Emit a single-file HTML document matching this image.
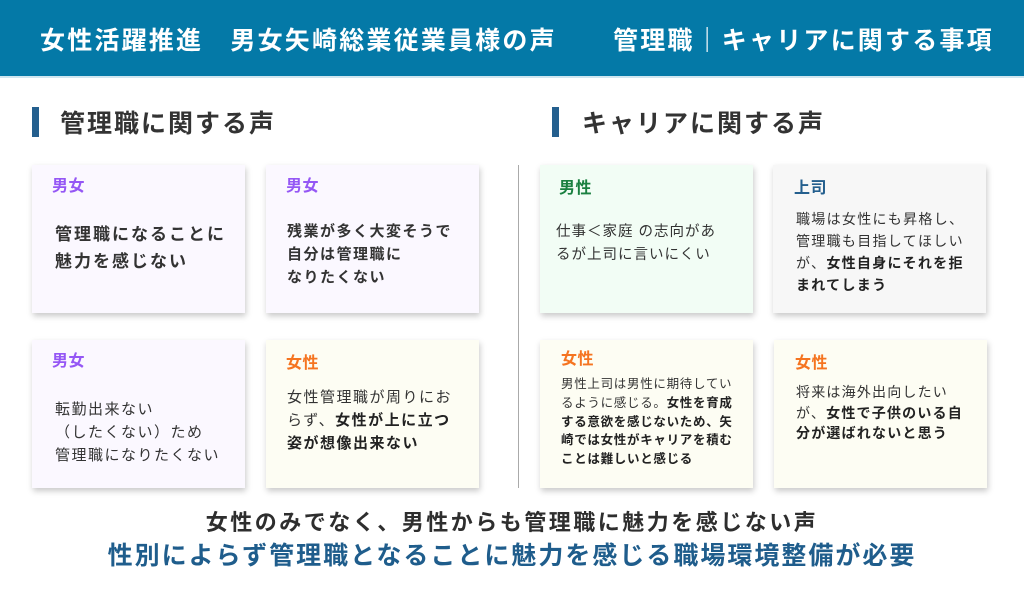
<!DOCTYPE html>
<html><head><meta charset="utf-8"><style>
*{margin:0;padding:0;box-sizing:border-box}
body{width:1024px;height:597px;background:#fff;position:relative;overflow:hidden;font-family:"Liberation Sans","Noto Sans CJK JP",sans-serif;color:#333}
.hdr{position:absolute;left:0;top:0;width:1024px;height:78px;background:#0479a7;border-bottom:2px solid #cfe6f0}
.ht{position:absolute;top:24px;color:#fff;font-size:25px;letter-spacing:2.2px;font-weight:bold;white-space:nowrap;line-height:34px}
.sec{position:absolute;top:107px;height:34px;font-size:25px;letter-spacing:2px;font-weight:bold;color:#333;line-height:34px;white-space:nowrap}
.bar{position:absolute;top:107px;width:7px;height:30px;background:#245f8e}
.card{position:absolute;width:213px;height:148px;box-shadow:1px 3px 6px rgba(0,0,0,.22)}
.lb{position:absolute;font-size:16px;letter-spacing:.5px;font-weight:bold;white-space:nowrap;line-height:20px}
.tx{position:absolute;white-space:nowrap;color:#333}
b{color:#222}
.pu{background:#fbf8ff}.cr{background:#fdfdf3}.mi{background:#f2fdf5}.gr{background:#f7f7f7}
</style></head><body>
<div class="hdr"></div>
<div class="ht" style="left:40px">女性活躍推進　男女矢崎総業従業員様の声</div>
<div class="ht" style="left:613px">管理職｜キャリアに関する事項</div>
<div class="bar" style="left:32px"></div><div class="sec" style="left:60px">管理職に関する声</div>
<div class="bar" style="left:552px"></div><div class="sec" style="left:582px">キャリアに関する声</div>
<div style="position:absolute;left:518px;top:165px;width:1px;height:323px;background:#aaa"></div>

<div class="card pu" style="left:32px;top:165px"></div>
<div class="lb" style="left:52px;top:177px;color:#9557f5">男女</div>
<div class="tx" style="left:55px;top:221px;font-size:17px;letter-spacing:2px;font-weight:bold;line-height:27px">管理職になることに<br>魅力を感じない</div>

<div class="card pu" style="left:266px;top:165px"></div>
<div class="lb" style="left:286px;top:177px;color:#9557f5">男女</div>
<div class="tx" style="left:287px;top:220px;font-size:15px;letter-spacing:1.5px;font-weight:bold;line-height:23px">残業が多く大変そうで<br>自分は管理職に<br>なりたくない</div>

<div class="card pu" style="left:32px;top:340px"></div>
<div class="lb" style="left:52px;top:352px;color:#9557f5">男女</div>
<div class="tx" style="left:55px;top:398px;font-size:15px;letter-spacing:1.5px;line-height:23px">転勤出来ない<br>（したくない）ため<br>管理職になりたくない</div>

<div class="card cr" style="left:266px;top:340px"></div>
<div class="lb" style="left:286px;top:354px;color:#f57420">女性</div>
<div class="tx" style="left:287px;top:386px;font-size:15px;letter-spacing:1.5px;line-height:23px">女性管理職が周りにお<br>らず、<b>女性が上に立つ</b><br><b>姿が想像出来ない</b></div>

<div class="card mi" style="left:540px;top:165px"></div>
<div class="lb" style="left:559px;top:179px;color:#1a8040">男性</div>
<div class="tx" style="left:556px;top:221px;font-size:14.5px;letter-spacing:1px;line-height:23px">仕事＜家庭 の志向があ<br>るが上司に言いにくい</div>

<div class="card gr" style="left:773px;top:165px"></div>
<div class="lb" style="left:794px;top:179px;color:#245f8e">上司</div>
<div class="tx" style="left:796px;top:208px;font-size:14px;letter-spacing:1.3px;line-height:22px">職場は女性にも昇格し、<br>管理職も目指してほしい<br>が、<b>女性自身にそれを拒</b><br><b>まれてしまう</b></div>

<div class="card cr" style="left:540px;top:340px"></div>
<div class="lb" style="left:561px;top:350px;color:#f57420">女性</div>
<div class="tx" style="left:561px;top:375px;font-size:12.5px;letter-spacing:.7px;line-height:18.8px">男性上司は男性に期待してい<br>るように感じる。<b>女性を育成</b><br><b>する意欲を感じないため、矢</b><br><b>崎では女性がキャリアを積む</b><br><b>ことは難しいと感じる</b></div>

<div class="card cr" style="left:774px;top:340px"></div>
<div class="lb" style="left:795px;top:354px;color:#f57420">女性</div>
<div class="tx" style="left:796px;top:382px;font-size:14px;letter-spacing:1.2px;line-height:20.5px">将来は海外出向したい<br>が、<b>女性で子供のいる自</b><br><b>分が選ばれないと思う</b></div>

<div style="position:absolute;left:0;width:1024px;top:508px;text-align:center;font-size:22px;letter-spacing:2.5px;font-weight:bold;color:#2e2e2e;line-height:30px">女性のみでなく、男性からも管理職に魅力を感じない声</div>
<div style="position:absolute;left:0;width:1024px;top:538px;text-align:center;font-size:25px;letter-spacing:2px;font-weight:bold;color:#1f5d8c;line-height:36px">性別によらず管理職となることに魅力を感じる職場環境整備が必要</div>
</body></html>
